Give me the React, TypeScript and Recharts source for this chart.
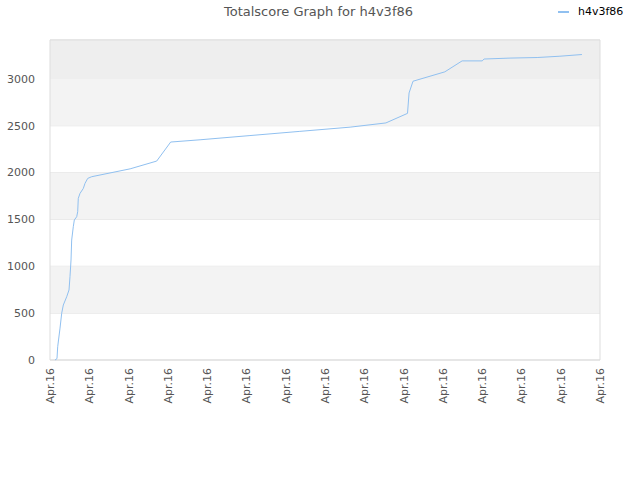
import React from 'react';
import { LineChart, Line, XAxis, YAxis, CartesianGrid, ReferenceArea } from 'recharts';

// x positions on the 0..14 tick axis, and the total score at each point
const xPos = [
  0.127, 0.178, 0.196, 0.255, 0.298, 0.339, 0.425, 0.484, 0.509, 0.535, 0.552, 0.593, 0.619,
  0.68, 0.705, 0.72, 0.764, 0.848, 0.891, 0.96, 1.061, 2.04, 2.716, 3.072, 3.82, 5.09, 6.36,
  7.64, 8.55, 9.1, 9.14, 9.24, 10.05, 10.49, 11.0, 11.05, 11.71, 12.4, 12.98, 13.54,
];
const scores = [
  0, 15, 142, 340, 500, 587, 675, 747, 889, 1067, 1280, 1422, 1494,
  1529, 1582, 1725, 1778, 1831, 1885, 1938, 1956, 2040, 2123, 2326, 2350, 2395, 2440,
  2485, 2530, 2632, 2850, 2975, 3075, 3192, 3192, 3212, 3222, 3228, 3242, 3260,
];
const xTicks = [0, 1, 2, 3, 4, 5, 6, 7, 8, 9, 10, 11, 12, 13, 14];
const tickLabel = 'Apr.16';
const yTicks = [0, 500, 1000, 1500, 2000, 2500, 3000];
const yMax = 3415;
const seriesName = 'h4v3f86';

const data = xPos.map((x, i) => ({ x, score: scores[i] }));

const font = '"DejaVu Sans", sans-serif';

const XTick = (props: any) => {
  const { x, y } = props;
  const ax = x + 4;
  const ay = y;
  return (
    <text
      x={ax}
      y={ay}
      transform={`rotate(-90, ${ax}, ${ay})`}
      textAnchor="end"
      fontSize={11}
      fontFamily={font}
      fill="#555"
    >
      {tickLabel}
    </text>
  );
};

export default function App() {
  return (
    <div style={{ position: 'absolute', left: 0, top: 0, width: 640, height: 480, background: '#fff' }}>
      <div
        style={{
          position: 'absolute',
          top: 4,
          left: 0,
          width: 637,
          textAlign: 'center',
          fontFamily: font,
          fontSize: 13,
          color: '#555',
        }}
      >
        Totalscore Graph for h4v3f86
      </div>
      <div
        style={{
          position: 'absolute',
          top: 5,
          left: 558,
          display: 'flex',
          alignItems: 'center',
          fontFamily: font,
          fontSize: 11,
          color: '#000',
          zIndex: 2,
        }}
      >
        <span style={{ display: 'inline-block', width: 11, height: 2, background: '#90c0f0', marginRight: 9 }} />
        {seriesName}
      </div>
      <LineChart width={640} height={480} data={data} margin={{ top: 40, right: 40, left: 0, bottom: 0 }}>
        <ReferenceArea x1={0} x2={14} y1={500} y2={1000} fill="#f3f3f3" fillOpacity={1} stroke="none" />
        <ReferenceArea x1={0} x2={14} y1={1500} y2={2000} fill="#f3f3f3" fillOpacity={1} stroke="none" />
        <ReferenceArea x1={0} x2={14} y1={2500} y2={3000} fill="#f3f3f3" fillOpacity={1} stroke="none" />
        <ReferenceArea x1={0} x2={14} y1={3000} y2={yMax} fill="#eeeeee" fillOpacity={1} stroke="none" />
        <CartesianGrid vertical={false} stroke="#e0e0e0" />
        <ReferenceArea x1={0} x2={14} y1={0} y2={yMax} fill="none" stroke="#dddddd" />
        <XAxis
          dataKey="x"
          type="number"
          domain={[0, 14]}
          ticks={xTicks}
          interval={0}
          height={120}
          axisLine={false}
          tickLine={false}
          tick={<XTick />}
        />
        <YAxis
          type="number"
          domain={[0, yMax]}
          ticks={yTicks}
          width={50}
          axisLine={false}
          tickLine={false}
          tick={{ fontSize: 11, fontFamily: font, fill: '#555' }}
          tickMargin={9}
        />
        <Line
          type="linear"
          dataKey="score"
          name={seriesName}
          stroke="#90c0f0"
          strokeWidth={1}
          dot={false}
          isAnimationActive={false}
        />
      </LineChart>
    </div>
  );
}
